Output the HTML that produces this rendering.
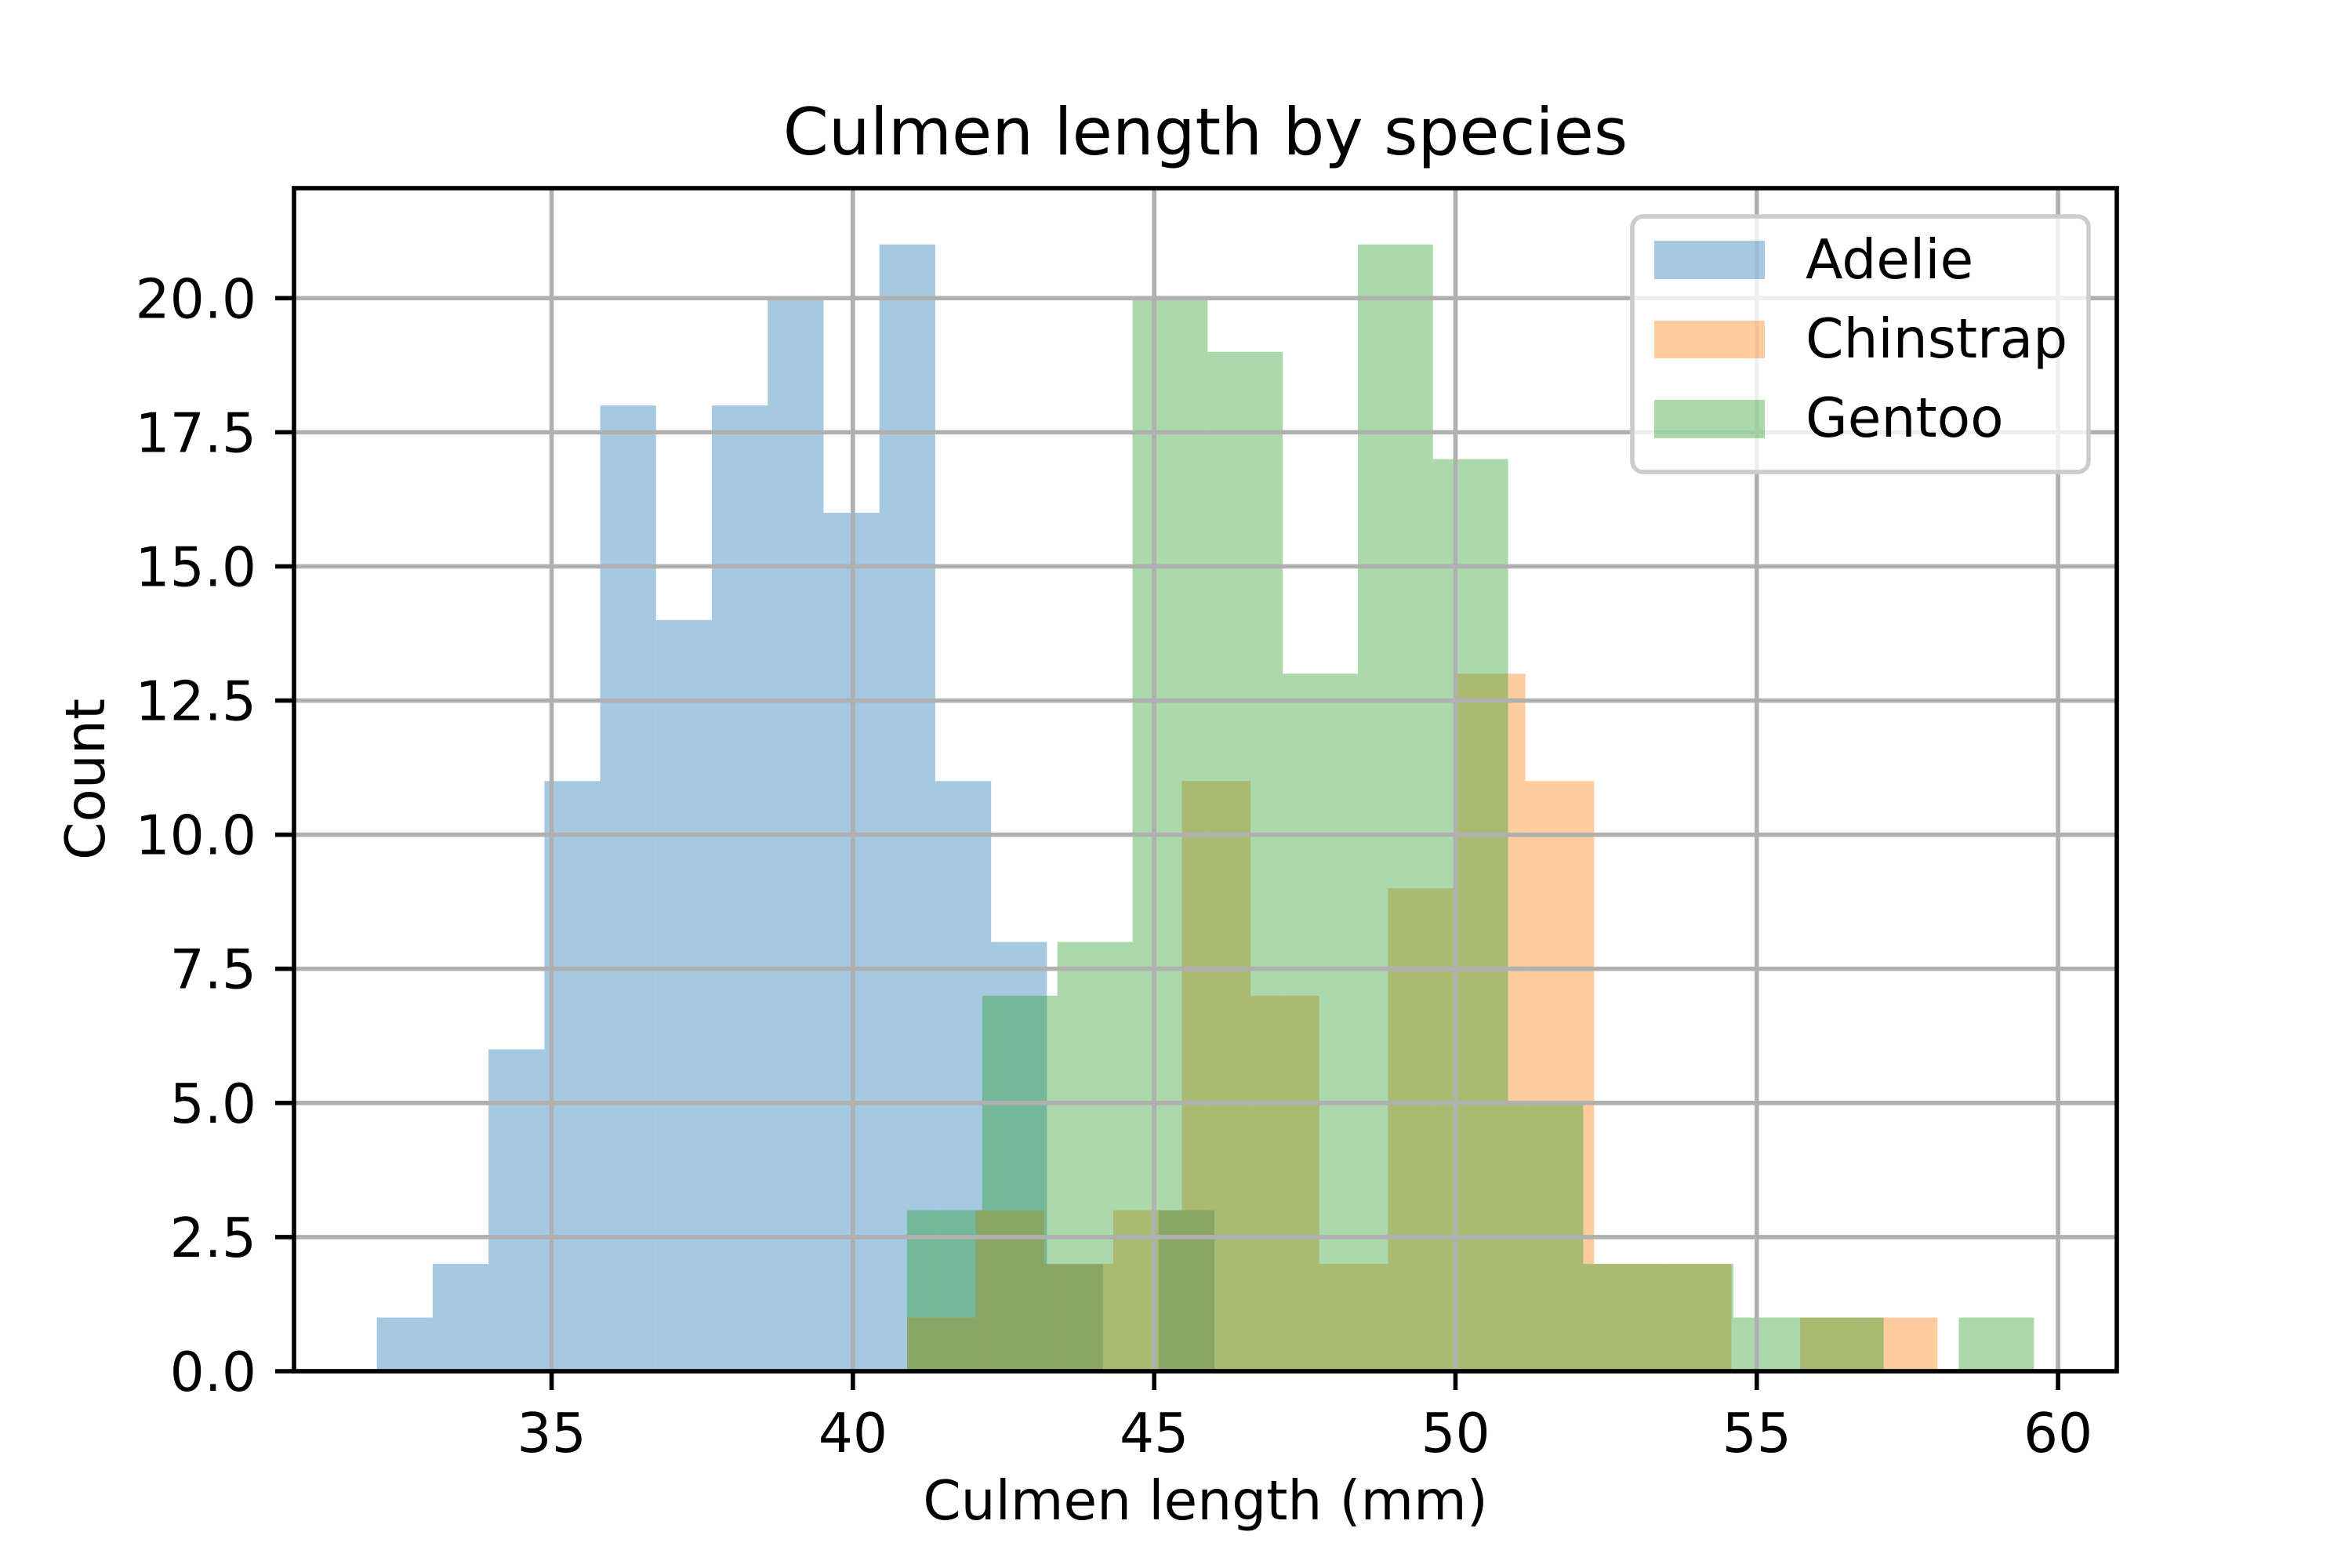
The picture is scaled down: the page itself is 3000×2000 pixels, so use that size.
<!DOCTYPE html>
<html><head><meta charset="utf-8"><style>
html,body{margin:0;padding:0;background:#fff;}
svg{display:block;font-family:"DejaVu Sans","Liberation Sans",sans-serif;}
</style></head><body>
<svg id="chart" xmlns="http://www.w3.org/2000/svg" width="3000" height="2000" viewBox="0 0 3000 2000">
<rect x="0" y="0" width="3000" height="2000" fill="#ffffff"/>
<g id="bars"></g>
<g id="grid"></g>
<g id="axes"></g>
<text x="1537.5" y="197" font-size="83.3" text-anchor="middle">Culmen length by species</text>
<text x="1537.5" y="1938" font-size="69.4" text-anchor="middle">Culmen length (mm)</text>
<text x="0" y="0" font-size="69.4" text-anchor="middle" transform="translate(133,994) rotate(-90)">Count</text>
<g>
<rect x="2082" y="276" width="582" height="326" rx="14" fill="#ffffff" fill-opacity="0.8" stroke="#cccccc" stroke-width="5.6"/>
<rect x="2110" y="307" width="141" height="49" fill="#1f77b4" fill-opacity="0.4"/>
<text x="2303" y="355" font-size="69.4">Adelie</text>
<rect x="2110" y="409" width="141" height="48" fill="#ff7f0e" fill-opacity="0.4"/>
<text x="2303" y="456" font-size="69.4">Chinstrap</text>
<rect x="2110" y="510" width="141" height="49" fill="#2ca02c" fill-opacity="0.4"/>
<text x="2303" y="557" font-size="69.4">Gentoo</text>
</g>
</svg>
<script>
const species = ["Adelie", "Chinstrap", "Gentoo"];
const binMin = [32.1, 40.9, 40.9];
const binMax = [46.0, 58.0, 59.6];
const adelieCounts = [1,2,6,11,18,14,18,20,16,21,11,8,2,0,3];
const chinstrapCounts = [1,3,2,3,11,7,2,9,13,11,2,2,0,1,1];
const gentooCounts = [3,7,8,20,19,13,21,17,5,2,2,1,1,0,1];
const xTicks = [35,40,45,50,55,60];
const yTicks = [0,2.5,5,7.5,10,12.5,15,17.5,20];
const yTickLabels = ["0.0","2.5","5.0","7.5","10.0","12.5","15.0","17.5","20.0"];

const NS = "http://www.w3.org/2000/svg";
const L = 375, R = 2700, T = 240, B = 1749;
const allCounts = [adelieCounts, chinstrapCounts, gentooCounts];
const colors = ["#1f77b4", "#ff7f0e", "#2ca02c"];
const dmin = Math.min(...binMin), dmax = Math.max(...binMax);
const xMin = dmin - (dmax - dmin) * 0.05, xMax = dmax + (dmax - dmin) * 0.05;
const cMax = Math.max(...allCounts.flat());
const yMax = cMax * 1.05;
function xs(v){ return L + (v - xMin) / (xMax - xMin) * (R - L); }
function ys(v){ return B - v / yMax * (B - T); }
function mk(tag, attrs, parent){
  const e = document.createElementNS(NS, tag);
  for (const k in attrs) e.setAttribute(k, attrs[k]);
  parent.appendChild(e);
  return e;
}
const barsG = document.getElementById("bars");
allCounts.forEach((counts, s) => {
  const w = (binMax[s] - binMin[s]) / counts.length;
  counts.forEach((c, i) => {
    if (c <= 0) return;
    const x0 = xs(binMin[s] + i * w), x1 = xs(binMin[s] + (i + 1) * w);
    const r = mk("rect", {x: x0, y: ys(c), width: x1 - x0, height: ys(0) - ys(c), fill: colors[s], "fill-opacity": 0.4}, barsG);
    
    
  });
});
const gridG = document.getElementById("grid");
const axesG = document.getElementById("axes");
xTicks.forEach(t => {
  const x = xs(t);
  const g = mk("line", {x1: x, x2: x, y1: T, y2: B, stroke: "#b0b0b0", "stroke-width": 5.6}, gridG);
  
  
  const tk = mk("line", {x1: x, x2: x, y1: B, y2: B + 24, stroke: "#000", "stroke-width": 5.6}, axesG);
  
  
  const lb = mk("text", {x: x, y: 1852, "font-size": 69.4, "text-anchor": "middle"}, axesG);
  lb.textContent = String(t);
  
  
});
yTicks.forEach((t, i) => {
  const y = ys(t);
  const g = mk("line", {x1: L, x2: R, y1: y, y2: y, stroke: "#b0b0b0", "stroke-width": 5.6}, gridG);
  
  
  const tk = mk("line", {x1: L - 24, x2: L, y1: y, y2: y, stroke: "#000", "stroke-width": 5.6}, axesG);
  
  
  const lb = mk("text", {x: 327, y: y + 25, "font-size": 69.4, "text-anchor": "end"}, axesG);
  lb.textContent = yTickLabels[i];
  
  
});
const frame = mk("rect", {x: L, y: T, width: R - L, height: B - T, fill: "none", stroke: "#000", "stroke-width": 5.6}, axesG);


</script>
</body></html>
